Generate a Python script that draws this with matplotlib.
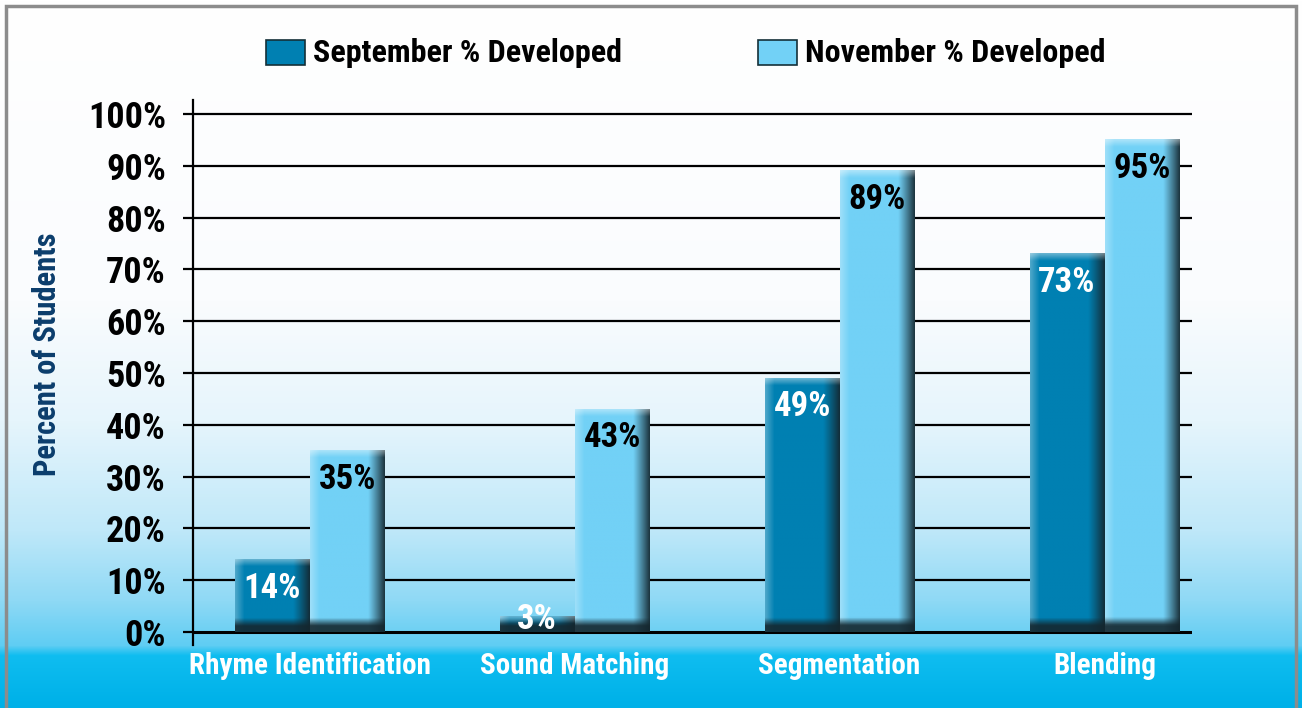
import numpy as np
import matplotlib
matplotlib.use("Agg")
import matplotlib.pyplot as plt
from matplotlib import font_manager
from matplotlib.colors import to_rgb
from matplotlib.patches import Rectangle

#
# data
#
categories = ["Rhyme Identification", "Sound Matching", "Segmentation", "Blending"]
september = [14, 3, 49, 73]
november = [35, 43, 89, 95]
series_names = ["September % Developed", "November % Developed"]
y_ticks = [0, 10, 20, 30, 40, 50, 60, 70, 80, 90, 100]

sep_color = "#0080b2"
nov_color = "#72d1f6"

# pick a narrow bold font if one is there
installed = {f.name for f in font_manager.fontManager.ttflist}
families = [f for f in ["Liberation Sans Narrow", "Roboto Condensed", "DejaVu Sans Condensed", "DejaVu Sans"] if f in installed]
plt.rcParams['font.family'] = families
plt.rcParams['font.weight'] = 'bold'
plt.rcParams['axes.labelweight'] = 'bold'


def shaded_bar(ax, x, width, height, color):
    # bar with a darker right edge and bottom, light left/top rim
    base = np.array(to_rgb(color))
    dark = np.array([0.08, 0.15, 0.18])
    nx, ny = 60, 300
    img = np.tile(base, (ny, nx, 1))
    u = np.linspace(0, 1, nx)
    # right edge shadow
    r = np.clip((u - 0.78) / 0.22, 0, 1) ** 1.1
    img = img * (1 - 0.9 * r[None, :, None]) + dark * 0.9 * r[None, :, None]
    # left highlight
    l = np.clip((0.12 - u) / 0.12, 0, 1)
    img = img * (1 - 0.3 * l[None, :, None]) + 0.3 * l[None, :, None]
    # bottom shadow, fixed pixel size
    px = ax.get_window_extent().height / (ax.get_ylim()[1] - ax.get_ylim()[0])
    bar_px = max(height * px, 1)
    v = np.linspace(0, 1, ny) * bar_px  # from top (row 0) downwards in px
    from_bottom = bar_px - v
    b = np.clip((14 - from_bottom) / 8, 0, 1)
    img = img * (1 - 0.9 * b[:, None, None]) + dark * 0.9 * b[:, None, None]
    # top highlight
    t = np.clip((7 - v) / 7, 0, 1)
    img = img * (1 - 0.4 * t[:, None, None]) + 0.4 * t[:, None, None]
    ax.imshow(img, extent=(x - width / 2, x + width / 2, 0, height),
              aspect='auto', zorder=3, interpolation='bilinear')


fig = plt.figure(figsize=(13.02, 7.08), dpi=100)

#
# background gradient over the whole figure
#
bg = fig.add_axes([0, 0, 1, 1])
stops_y = [0, 300, 420, 530, 600, 645, 655, 700, 708]
stops_c = ["#ffffff", "#fafcfe", "#e6f5fc", "#bfe8f9", "#8fd9f5", "#5fcdf3", "#0fbdf0", "#00b2e9", "#00b0e8"]
rows = np.arange(708)
grad = np.zeros((708, 1, 3))
for k in range(3):
    grad[:, 0, k] = np.interp(rows, stops_y, [to_rgb(c)[k] for c in stops_c])
bg.imshow(grad, extent=(0, 1, 0, 1), aspect='auto')
bg.set_xlim(0, 1)
bg.set_ylim(0, 1)
bg.axis('off')
bg.add_patch(Rectangle((6 / 1302, -0.01), 1290 / 1302, (708 - 6) / 708 + 0.01, fill=False,
                       edgecolor="#8c8c8c", linewidth=2.5))

#
# main axes
#
ax = fig.add_axes([193 / 1302, 1 - 645 / 708, (1192 - 193) / 1302, (645 - 100) / 708])
ax.patch.set_alpha(0)
ax.set_xlim(-0.44, 3.33)
ax.set_ylim(-2.5, 102.7)

width = 0.283
index = np.arange(len(categories))

for yv in y_ticks:
    ax.axhline(yv, color='black', linewidth=1.6 if yv else 2.2, zorder=1)

for i in index:
    shaded_bar(ax, i - width / 2, width, september[i], sep_color)
    shaded_bar(ax, i + width / 2, width, november[i], nov_color)
    ax.text(i - width / 2, max(september[i] - 5.5, 2.5), f"{september[i]}%",
            ha='center', va='center', color='white', fontsize=25, zorder=5)
    ax.text(i + width / 2, max(november[i] - 5.5, 2.5), f"{november[i]}%",
            ha='center', va='center', color='black', fontsize=25, zorder=5)

for side in ['top', 'right', 'bottom']:
    ax.spines[side].set_visible(False)
ax.spines['left'].set_linewidth(1.6)
ax.set_yticks(y_ticks)
ax.set_yticklabels([f"{v}%" for v in y_ticks], fontsize=26)
ax.tick_params(axis='y', length=7.5, width=1.6, pad=12)
ax.set_xticks(index)
ax.set_xticklabels(categories, fontsize=21, color='white')
ax.tick_params(axis='x', length=0, pad=5)
ax.set_ylabel("Percent of Students", fontsize=22, color="#0b3d6c")
ax.yaxis.set_label_coords(-0.131, 0.534)

#
# legend drawn as patches + text in figure coords
#
for name, color, x0 in zip(series_names, [sep_color, nov_color], [266, 758]):
    bg.add_patch(Rectangle((x0 / 1302, 1 - 65 / 708), 39 / 1302, 25 / 708,
                           facecolor=color, edgecolor="#143038", linewidth=1.2))
    bg.text((x0 + 47) / 1302, 1 - 53 / 708, name, ha='left', va='center',
            fontsize=23, color='black')

fig.savefig("out.png", dpi=100)
